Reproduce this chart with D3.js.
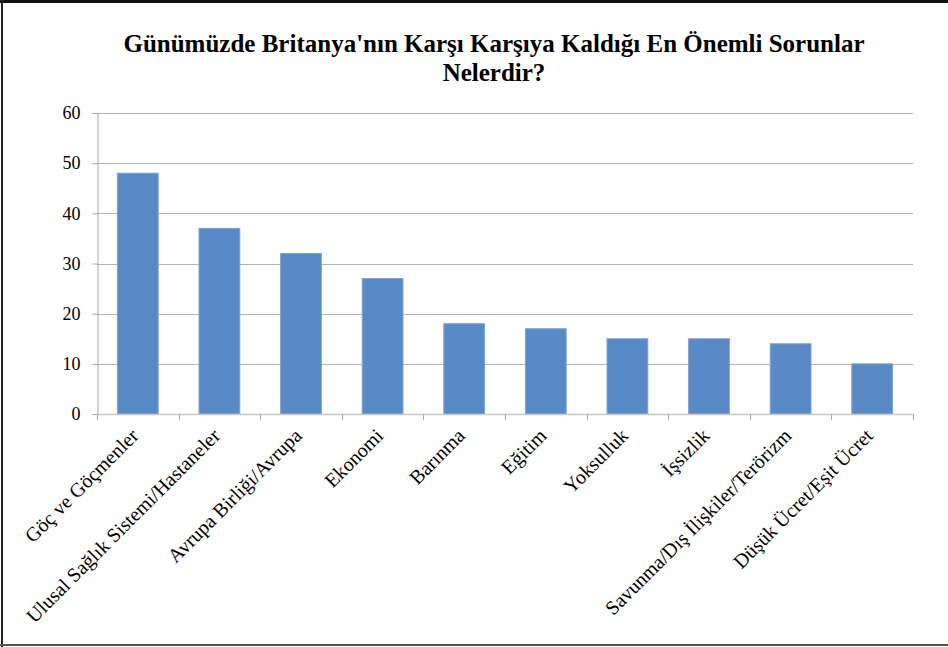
<!DOCTYPE html>
<html>
<head>
<meta charset="utf-8">
<script src="https://cdn.jsdelivr.net/npm/d3@7"></script>
<style>
  body { margin: 0; background: #fff; }
  svg { display: block; }
  text { font-family: "Liberation Serif", "Times New Roman", serif; fill: #000; }
</style>
</head>
<body>
<svg id="chart" width="948" height="647"></svg>
<script>
var categories = ["Göç ve Göçmenler", "Ulusal Sağlık Sistemi/Hastaneler", "Avrupa Birliği/Avrupa",
  "Ekonomi", "Barınma", "Eğitim", "Yoksulluk", "İşsizlik",
  "Savunma/Dış İlişkiler/Terörizm", "Düşük Ücret/Eşit Ücret"];
var values = [48, 37, 32, 27, 18, 17, 15, 15, 14, 10];
var yTicks = [0, 10, 20, 30, 40, 50, 60];
var titleLines = ["Günümüzde Britanya'nın  Karşı Karşıya Kaldığı En Önemli Sorunlar", "Nelerdir?"];

var svg = d3.select("#chart");
var W = 948, H = 647;
var pLeft = 97, pRight = 913, pTop = 113, pBottom = 414;

// frame
svg.append("rect").attr("x", 0).attr("y", 0).attr("width", W).attr("height", 3).attr("fill", "#111");
svg.append("rect").attr("x", 1).attr("y", 0).attr("width", 2).attr("height", H).attr("fill", "#222");
svg.append("rect").attr("x", 0).attr("y", H - 3).attr("width", W).attr("height", 2).attr("fill", "#555");

// title
svg.append("g").selectAll("text").data(titleLines).enter().append("text")
  .attr("x", 494).attr("y", function(d, i) { return 52 + i * 29; })
  .attr("text-anchor", "middle")
  .style("font-size", "25px").style("font-weight", "bold")
  .text(function(d) { return d; });

var x = d3.scaleBand().domain(categories).range([pLeft, pRight]).paddingInner(0.5).paddingOuter(0.25);
var y = d3.scaleLinear().domain([0, 60]).range([pBottom, pTop]);

// gridlines
svg.append("g").selectAll("line").data(yTicks.filter(function(d) { return d > 0; })).enter().append("line")
  .attr("x1", pLeft).attr("x2", pRight)
  .attr("y1", function(d) { return Math.round(y(d)) + 0.5; })
  .attr("y2", function(d) { return Math.round(y(d)) + 0.5; })
  .attr("stroke", "#b4b4b4").attr("stroke-width", 1.2);

// y axis
var yAxis = svg.append("g").attr("transform", "translate(" + (pLeft + 0.5) + ",0)")
  .call(d3.axisLeft(y).tickValues(yTicks).tickSize(5).tickPadding(12));
yAxis.select(".domain").attr("stroke", "#a8a8a8");
yAxis.selectAll(".tick line").attr("stroke", "#a8a8a8");
yAxis.selectAll("text").style("font-size", "18px")
  .style("font-family", "'Liberation Serif', 'Times New Roman', serif").attr("fill", "#000");

// bars
svg.append("g").selectAll("rect").data(values).enter().append("rect")
  .attr("x", function(d, i) { return x(categories[i]); })
  .attr("width", x.bandwidth())
  .attr("y", function(d) { return y(d); })
  .attr("height", function(d) { return y(0) - y(d); })
  .attr("fill", "#5a8ac6")
  .attr("stroke", "#7ea3d4").attr("stroke-width", 1);

// x axis
var step = x.step();
var xb = svg.append("g");
xb.append("line").attr("x1", pLeft).attr("x2", pRight)
  .attr("y1", pBottom + 0.5).attr("y2", pBottom + 0.5).attr("stroke", "#c8c8c8").attr("stroke-width", 1.5);
xb.selectAll("line.tk").data(d3.range(categories.length + 1)).enter().append("line").attr("class", "tk")
  .attr("x1", function(i) { return Math.round(pLeft + i * step) + 0.5; })
  .attr("x2", function(i) { return Math.round(pLeft + i * step) + 0.5; })
  .attr("y1", pBottom).attr("y2", pBottom + 6).attr("stroke", "#a8a8a8");

xb.selectAll("text").data(categories).enter().append("text")
  .attr("transform", function(d) { return "translate(" + (x(d) + x.bandwidth() / 2 - 3) + "," + (pBottom + 18) + ") rotate(-45)"; })
  .attr("text-anchor", "end")
  .attr("dy", "0.35em")
  .style("font-size", "20px")
  .text(function(d) { return d; });
</script>
</body>
</html>
